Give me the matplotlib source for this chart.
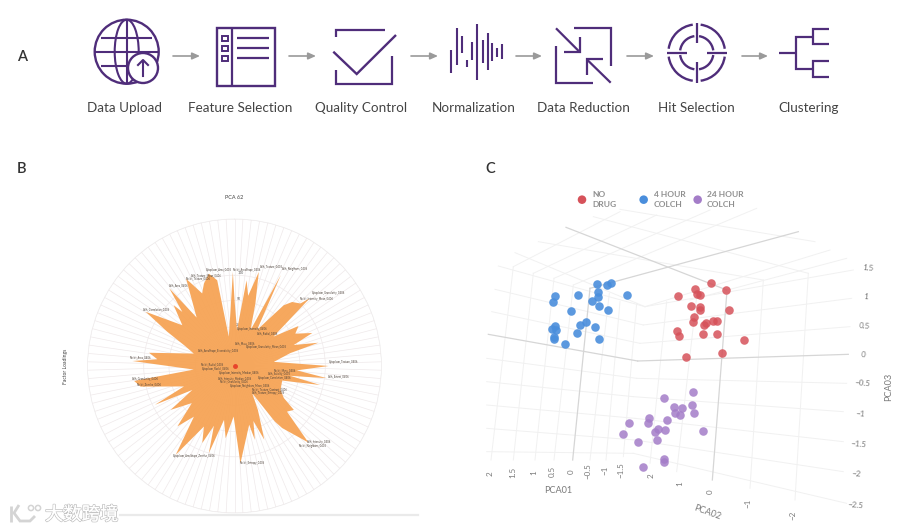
import numpy as np
import matplotlib
matplotlib.use('Agg')
import matplotlib.pyplot as plt
import matplotlib.patheffects as pe
from matplotlib.patches import Circle, Ellipse, Arc, Rectangle

plt.rcParams['font.family'] = ['Lato', 'DejaVu Sans']

# panel A
step_names = ['Data Upload', 'Feature Selection', 'Quality Control', 'Normalization',
              'Data Reduction', 'Hit Selection', 'Clustering']
step_x = [124.7, 240, 361, 474, 583.3, 696, 809]
arrow_from = [173, 289, 411, 516, 627, 742]
arrow_to = [200, 316, 438, 542, 654, 768]

# panel B: angle clockwise from north (deg) and factor loading
angle = [0, 4, 8, 11, 14.5, 18.5, 24, 27, 32, 39, 42, 46.5, 48, 53, 58, 62, 67, 70.5, 74.5,
         77, 84, 90, 94, 97.5, 100, 102.5, 107, 117.5, 123, 126.5, 131, 136, 142.5, 144,
         147, 152, 158, 161, 164.6, 166, 176.5, 181, 187, 191, 196.4, 199, 202.7, 206.8,
         213.5, 218.7, 223.4, 229, 235.5, 240.4, 244, 248, 257.6, 261.5, 265, 272.8, 275,
         278.8, 287, 292, 297, 301.4, 308, 315, 316, 320, 322, 331, 336, 339.6, 344.5,
         348.6, 349, 355, 359]
loading = [200, 108, 260, 215, 292, 198, 118, 307, 128, 235, 259, 273, 304, 147, 227, 207,
           254, 189, 262, 172, 119, 283, 188, 280, 170, 264, 150, 156, 177, 222, 209, 320,
           235, 206, 98, 150, 239, 175, 230, 182, 293, 152, 219, 165, 273, 190, 251, 204,
           320, 195, 250, 170, 233, 146, 266, 164, 289, 305, 123, 307, 233, 260, 128, 160,
           227, 313, 199, 259, 226, 305, 185, 300, 239, 264, 288, 263, 90, 150, 283]
ring_pos = [118, 197, 273, 442]
ring_labels = ['25', '50', '100', '']
n_spokes = 110

# tiny feature labels, too blurred in the source to read exactly
feature_names = ['Cytoplasm_Area_0406', 'Nuclei_AreaShape_0406', 'Cells_Texture_0406',
                 'Cells_Neighbors_0406', 'Cytoplasm_Granularity_0406', 'Nuclei_Intensity_Mean_0406',
                 'Cells_Texture_Mean_0406', 'Nuclei_Texture_0406', 'Cells_Area_0406', 'Cells_Correlation_0406',
                 'Nuclei_Area_0406', 'Cells_Granularity_0406', 'Nuclei_Zernike_0406',
                 'Cytoplasm_Texture_0406', 'Cells_Extent_0406', 'Cells_Intensity_0406', 'Nuclei_Neighbors_0406',
                 'Cytoplasm_AreaShape_Zernike_0406', 'Nuclei_Entropy_0406', 'Cytoplasm_Intensity_0406',
                 'Cells_Radial_0406', 'Cells_Mass_0406', 'Cytoplasm_Granularity_Mean_0406',
                 'Cells_AreaShape_Eccentricity_0406', 'Nuclei_Radial_0406', 'Cytoplasm_Radial_0406',
                 'Cytoplasm_Intensity_Median_0406', 'Nuclei_Mass_0406', 'Cells_Solidity_0406',
                 'Cytoplasm_Correlation_0406', 'Cells_Intensity_Median_0406', 'Nuclei_Granularity_0406',
                 'Cytoplasm_Neighbors_Mean_0406', 'Nuclei_Texture_Contrast_0406', 'Cells_Texture_Entropy_0406']
label_x = [438, 518, 600, 665, 755, 718, 392, 378, 327, 250, 210, 217, 230, 807, 803, 742, 716, 340,
           540, 532, 592, 525, 557, 415, 422, 425, 478, 640, 625, 595, 475, 480, 510, 575, 575]
label_y = [240, 240, 229, 238, 309, 326, 255, 266, 286, 357, 503, 568, 584, 516, 560, 755, 769, 797,
           820, 416, 430, 460, 472, 484, 524, 536, 550, 541, 552, 563, 566, 577, 588, 598, 609]

# panel C: projected positions of the samples
no_drug_x = [723, 769, 676, 680, 689, 625, 663, 691, 690, 777, 673, 669, 708, 702, 729, 741, 621, 628,
             699, 740, 821, 757, 648]
no_drug_y = [340, 360, 356, 372, 375, 378, 407, 411, 420, 419, 440, 456, 458, 466, 453, 452, 484, 497,
             491, 492, 510, 549, 561]
hour4_x = [380, 410, 424, 383, 255, 325, 383, 472, 366, 249, 387, 304, 413, 347, 330, 375, 256, 247,
           258, 321, 253, 253, 386, 286]
hour4_y = [341, 344, 339, 365, 378, 375, 381, 375, 392, 396, 407, 424, 421, 455, 466, 471, 468, 478,
           479, 488, 501, 507, 506, 521]
hour24_x = [669, 582, 665, 611, 635, 616, 630, 673, 537, 590, 477, 535, 563, 585, 556, 700, 459, 562,
            505, 581, 581, 520]
hour24_y = [667, 683, 704, 712, 715, 728, 735, 729, 745, 749, 759, 759, 777, 781, 785, 782, 791, 809,
            816, 868, 875, 892]

PURPLE = '#4F2D7A'
fig = plt.figure(figsize=(9.14, 5.32), dpi=100, facecolor='white')

# ---- B: radar ----
pol = fig.add_axes([(234.5 - 147) / 914, (532 - 366 - 147) / 532, 294 / 914, 294 / 532], projection='polar')
pol.set_theta_zero_location('N')
pol.set_theta_direction(-1)
pol.fill(np.radians(angle), loading, color='#F6A252', alpha=0.93, lw=0, zorder=3)
pol.plot([0], [0], 'o', color='#E8452C', ms=2.5, zorder=4)
pol.set_xticks(np.linspace(0, 2 * np.pi, n_spokes, endpoint=False))
pol.set_xticklabels([])
pol.set_thetalim(0, 2 * np.pi)
pol.set_rlim(0, 442)
pol.set_yticks(ring_pos)
pol.set_yticklabels(ring_labels, fontsize=2.5, color='#555555')
pol.set_rlabel_position(2)
pol.grid(color='#EFE9EA', lw=0.5)
pol.set_axisbelow(False)
pol.spines['polar'].set_color('#EEEEEE')
pol.spines['polar'].set_linewidth(0.5)

# labels of panel B are kept in the coordinates they were read in
lab = fig.add_axes([60 / 914, (532 - 525) / 532, 370 / 914, 335 / 532])
lab.set_xlim(0, 1110)
lab.set_ylim(1005, 0)
lab.axis('off')
for name, x, y in zip(feature_names, label_x, label_y):
    lab.text(x, y, name, fontsize=1.9, color='#4A4038', va='center', ha='left')
lab.text(523, 22, 'PCA 62', fontsize=4, color='#444444', ha='center', va='center')
lab.text(17, 530, 'Factor Loadings', fontsize=3.6, color='#444444', rotation=90, ha='center', va='center')

# ---- C: projected 3d scatter ----
c = fig.add_axes([470 / 914, (532 - 520) / 532, 430 / 914, 350 / 532])
c.set_xlim(0, 1290)
c.set_ylim(1050, 0)
c.axis('off')

thin = [
    # left wall, along the depth
    (85, 288, 525, 410), (75, 358, 520, 465), (65, 425, 510, 520), (50, 565, 500, 625),
    (50, 635, 490, 680), (50, 705, 495, 745), (50, 775, 495, 810), (50, 845, 490, 850),
    # right wall
    (525, 410, 1150, 300), (520, 465, 1145, 385), (510, 520, 1140, 470), (500, 625, 1130, 640),
    (490, 680, 1120, 725), (495, 745, 1120, 815), (495, 810, 1120, 905), (490, 850, 1130, 1000),
    # uprights
    (130, 290, 63, 870), (190, 310, 130, 870), (252, 325, 195, 870), (310, 345, 252, 870),
    (418, 370, 360, 870), (450, 395, 408, 870), (500, 400, 460, 860), (590, 395, 540, 880),
    (680, 380, 620, 905), (880, 330, 840, 955), (1015, 310, 975, 990),
    # top plane
    (130, 290, 450, 125), (190, 310, 560, 135), (252, 325, 720, 120), (310, 345, 860, 115),
    (525, 410, 1080, 240), (660, 390, 1130, 265),
    (135, 248, 525, 410), (205, 215, 880, 330), (370, 140, 1015, 310), (450, 118, 1035, 215),
]
for x0, y0, x1, y1 in thin:
    c.plot([x0, x1], [y0, y1], color='#F1F1F1', lw=0.7, zorder=1)
thick = [(288, 172, 770, 360), (985, 185, 360, 355), (360, 355, 308, 870), (55, 493, 503, 573),
         (503, 573, 1135, 553), (770, 375, 727, 930)]
for x0, y0, x1, y1 in thick:
    c.plot([x0, x1], [y0, y1], color='#D6D6D6', lw=0.9, zorder=2)

c.scatter(no_drug_x, no_drug_y, s=38, color='#D6525A', alpha=0.85, lw=0, zorder=3)
c.scatter(hour4_x, hour4_y, s=38, color='#4A8EDC', alpha=0.9, lw=0, zorder=3)
c.scatter(hour24_x, hour24_y, s=38, color='#A47DC8', alpha=0.85, lw=0, zorder=3)

c.scatter([336, 521, 683], [89, 89, 89], s=38, color=['#D6525A', '#4A8EDC', '#A47DC8'], lw=0, zorder=3)
for x, s in zip([366, 552, 710], ['NO\nDRUG', '4 HOUR\nCOLCH', '24 HOUR\nCOLCH']):
    c.text(x, 89, s, fontsize=6, color='#8F8F8F', fontweight='bold', va='center', ha='left', linespacing=1.45)

tick_col = '#7A7A7A'
for (x, y), s in zip([(60, 912), (127, 908), (190, 908), (247, 905), (305, 905), (355, 903), (405, 900), (452, 900)],
                     ['2', '1.5', '1', '0.5', '0', '\u22120.5', '\u22121', '\u22121.5']):
    c.text(x, y, s, fontsize=5.8, color=tick_col, rotation=90, ha='center', va='center')
for (x, y), s in zip([(543, 917), (628, 940), (722, 966), (835, 1000), (968, 1035)],
                     ['2', '1', '0', '\u22121', '\u22122']):
    c.text(x, y, s, fontsize=5.8, color=tick_col, rotation=90, ha='center', va='center')
for (x, y), s in zip([(1195, 295), (1188, 381), (1185, 467), (1180, 553), (1177, 641), (1170, 732), (1165, 822),
                      (1160, 912), (1157, 1005)],
                     ['1.5', '1', '0.5', '0', '\u22120.5', '\u22121', '\u22121.5', '\u22122', '\u22122.5']):
    c.text(x, y, s, fontsize=5.8, color=tick_col, ha='center', va='center', rotation=-5)
c.text(265, 962, 'PCA01', fontsize=6.6, color=tick_col, ha='center', va='center')
c.text(713, 1027, 'PCA02', fontsize=6.6, color=tick_col, ha='center', va='center', rotation=-20)
c.text(1255, 652, 'PCA03', fontsize=6.6, color=tick_col, ha='center', va='center', rotation=90)

# ---- A and the page furniture, in image pixels ----
ax = fig.add_axes([0, 0, 1, 1], zorder=5)
ax.set_xlim(0, 914)
ax.set_ylim(532, 0)
ax.axis('off')


def seg(pts, color=PURPLE, lw=1.6):
    xs, ys = zip(*pts)
    ax.plot(xs, ys, color=color, lw=lw, solid_capstyle='butt', solid_joinstyle='miter')


for name, x in zip(step_names, step_x):
    ax.text(x, 108, name, fontsize=9.7, color='#444444', ha='center', va='center')
for x0, x1 in zip(arrow_from, arrow_to):
    ax.annotate('', xy=(x1, 56), xytext=(x0, 56),
                arrowprops=dict(arrowstyle='-|>,head_width=0.2,head_length=0.45', color='#9A9A9A', lw=1.2,
                                shrinkA=0, shrinkB=0))

for s, x, y in [('A', 22, 57), ('B', 22, 169), ('C', 490, 169)]:
    ax.text(x, y, s, fontsize=10.5, color='#333333', ha='center', va='center', fontweight='semibold')

# globe
ax.add_patch(Circle((126.7, 51.7), 32, fill=False, ec=PURPLE, lw=1.7))
ax.add_patch(Ellipse((126.7, 51.7), 24, 64, fill=False, ec=PURPLE, lw=1.5))
seg([(126.7, 20), (126.7, 83)], lw=1.5)
seg([(101, 38), (152, 38)], lw=1.5)
seg([(95, 52), (158, 52)], lw=1.5)
seg([(101, 66), (135, 66)], lw=1.5)
ax.add_patch(Circle((143, 68), 15, fc='white', ec=PURPLE, lw=1.7, zorder=4))
ax.plot([143, 143], [76, 61], color=PURPLE, lw=1.5, zorder=5)
ax.plot([138, 143, 148], [65, 60, 65], color=PURPLE, lw=1.5, zorder=5)

# feature list
ax.add_patch(Rectangle((216.7, 28), 58.3, 58, fill=False, ec=PURPLE, lw=1.7))
seg([(231.7, 28), (231.7, 86)])
for y in [38.3, 48.3, 58.3]:
    ax.add_patch(Rectangle((222.3, y - 2.7), 5.4, 5.4, fill=False, ec=PURPLE, lw=1.4))
    seg([(236.7, y), (269.3, y)])

# check box
seg([(336, 37), (336, 30), (385, 30)])
seg([(391.7, 56), (391.7, 84.3), (336, 84.3), (336, 70)])
seg([(333.3, 51.7), (356.7, 74), (396, 35)], lw=1.7)

# waveform
wave_x = [451.3, 456.7, 461.7, 466.7, 471.7, 477, 482.7, 487.7, 492.3, 497, 501.7]
wave_top = [50, 28.3, 36, 60, 41.7, 24, 40, 33.3, 43.3, 48.3, 44.3]
wave_bot = [72.7, 65, 53.3, 66.7, 60, 80, 62.7, 70, 60.7, 56.7, 59.3]
for x, y0, y1 in zip(wave_x, wave_top, wave_bot):
    seg([(x, y0), (x, y1)], lw=1.5)

# data reduction
seg([(574, 28.3), (610.7, 28.3), (610.7, 65.7)])
seg([(556, 45.7), (556, 82.7), (592.7, 82.7)])
seg([(556, 28.3), (580, 52.3)])
seg([(580, 36.7), (580, 52.3), (564.3, 52.3)])
seg([(610.7, 82.7), (586.7, 59.3)])
seg([(586.7, 75), (586.7, 59.3), (602.7, 59.3)])

# target
hc = (696.7, 52.7)
for r in [28.3, 16.7]:
    for a in [0, 90, 180, 270]:
        ax.add_patch(Arc(hc, 2 * r, 2 * r, theta1=a + 8, theta2=a + 82, ec=PURPLE, lw=1.7))
seg([(696.7, 23.3), (696.7, 43.3)])
seg([(696.7, 62.3), (696.7, 82.7)])
seg([(666.7, 52.7), (686.7, 52.7)])
seg([(706.7, 52.7), (726.7, 52.7)])

# dendrogram
seg([(779.3, 52.7), (795.7, 52.7)])
seg([(813.3, 36.7), (795.7, 36.7), (795.7, 69), (813.3, 69)])
seg([(829.3, 29), (813.3, 29), (813.3, 44.3), (829.3, 44.3)])
seg([(829.3, 61), (813.3, 61), (813.3, 76.7), (829.3, 76.7)])

# watermark
ax.plot([120, 418], [515, 515], color='#EAEAEA', lw=1.6)
wm = ax.text(45, 515, '大数跨境', fontsize=13.2, color='white', ha='left', va='center',
             family=['Noto Sans CJK SC', 'DejaVu Sans'])
wm.set_path_effects([pe.withStroke(linewidth=1.2, foreground='#C4C4C4'), pe.Normal()])
seg([(11, 506), (11, 522)], color='#D4D4D4', lw=2)
seg([(19, 505), (14, 513), (20, 521), (30, 521), (35, 516)], color='#D4D4D4', lw=2)
ax.add_patch(Circle((31, 508), 2.6, fill=False, ec='#D4D4D4', lw=1.1))
ax.add_patch(Circle((38, 508), 2.6, fill=False, ec='#D4D4D4', lw=1.1))

fig.savefig('out.png', dpi=100)
